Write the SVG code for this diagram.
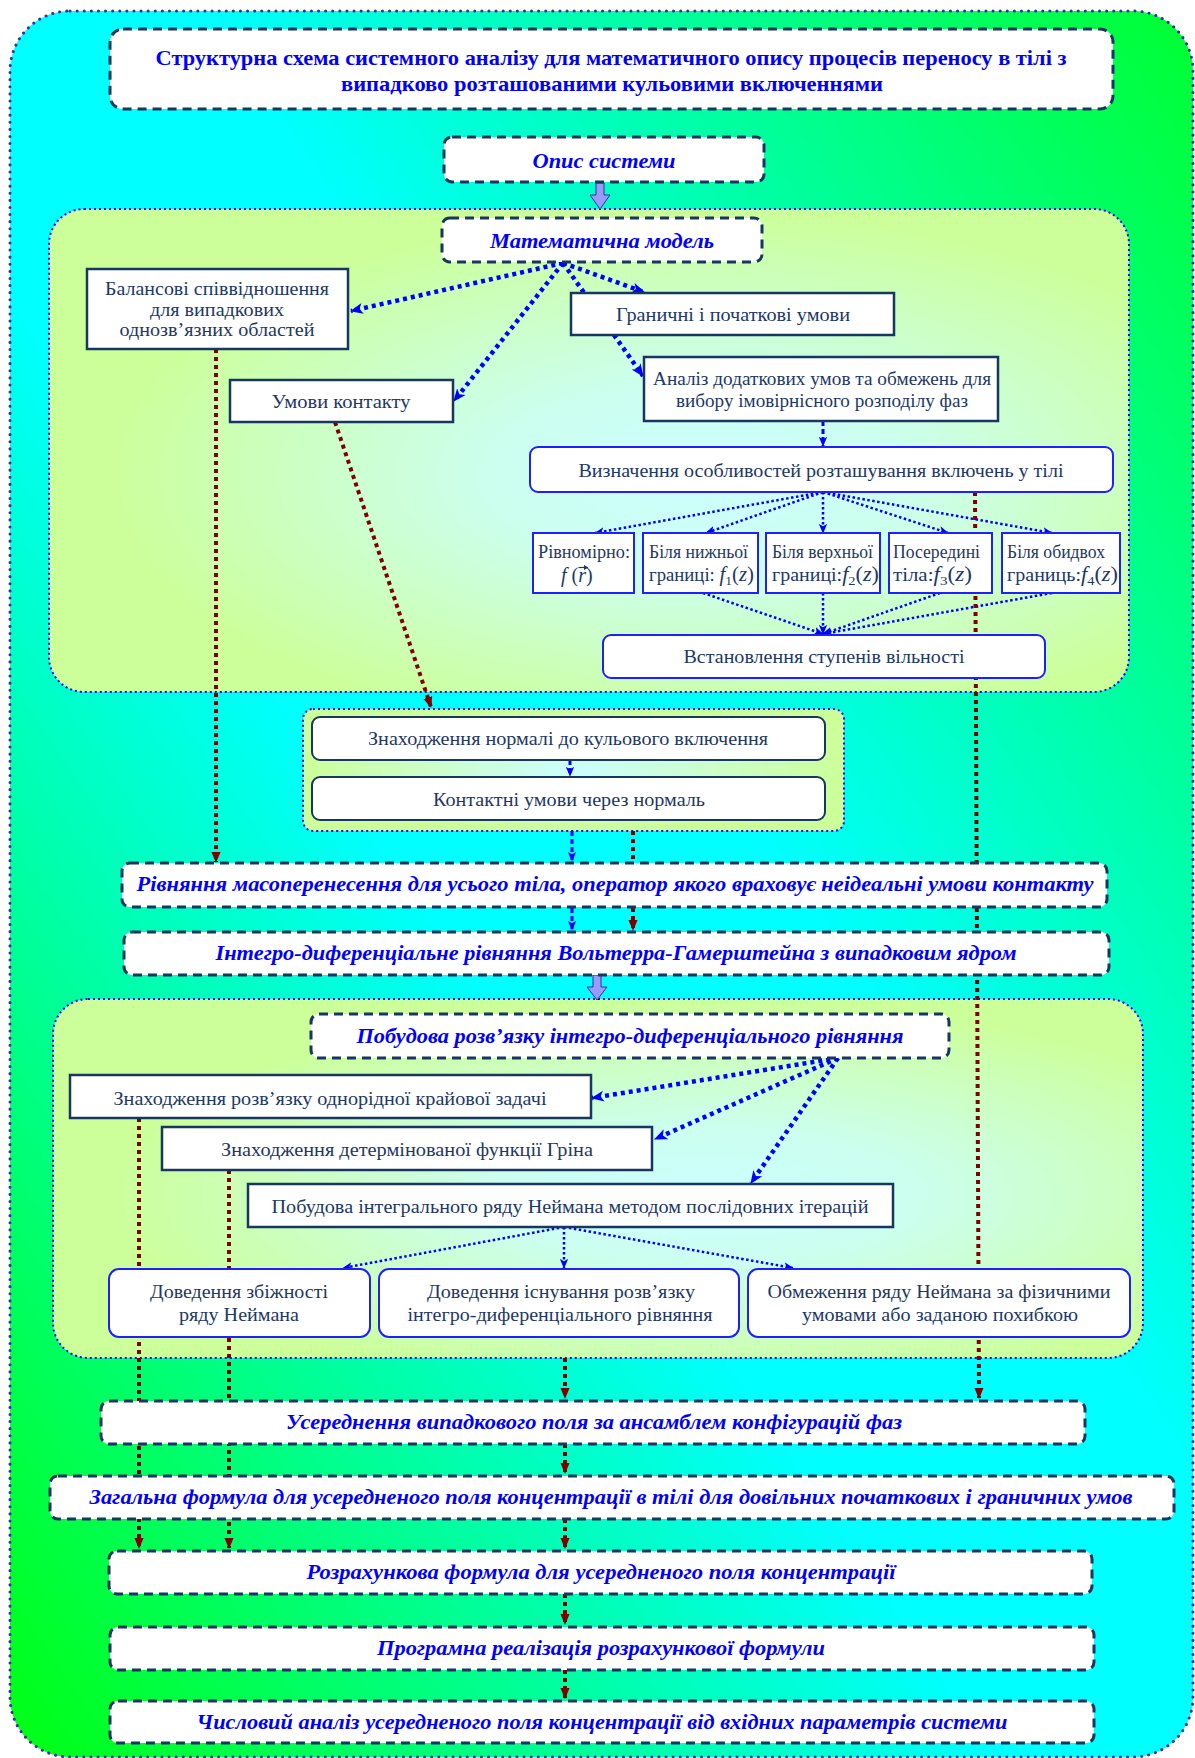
<svg xmlns="http://www.w3.org/2000/svg" width="1195" height="1758" viewBox="0 0 1195 1758">
<defs>
<linearGradient id="bg" x1="1" y1="0" x2="0" y2="1">
<stop offset="0" stop-color="#00ff30"/><stop offset="0.42" stop-color="#00ffff"/><stop offset="0.58" stop-color="#00ffff"/><stop offset="1" stop-color="#00ff10"/>
</linearGradient>
<radialGradient id="pg" cx="0.6" cy="0.55" r="0.55">
<stop offset="0" stop-color="#ccffff"/><stop offset="0.35" stop-color="#ccffee"/><stop offset="1" stop-color="#ccff99"/>
</radialGradient>
<radialGradient id="pg2" cx="0.5" cy="0.5" r="0.5">
<stop offset="0" stop-color="#ccffff"/><stop offset="1" stop-color="#ccff99"/>
</radialGradient>
<marker id="mb" markerUnits="userSpaceOnUse" markerWidth="13" markerHeight="13" viewBox="0 0 12 12" refX="11" refY="6" orient="auto"><path d="M0,1 L12,6 L0,11 L3,6 z" fill="#0000ff"/></marker>
<marker id="mbs" markerUnits="userSpaceOnUse" markerWidth="10" markerHeight="10" viewBox="0 0 12 12" refX="11" refY="6" orient="auto"><path d="M0,1 L12,6 L0,11 L3,6 z" fill="#0000ff"/></marker>
<marker id="mr" markerUnits="userSpaceOnUse" markerWidth="11" markerHeight="11" viewBox="0 0 12 12" refX="11" refY="6" orient="auto"><path d="M0,1 L12,6 L0,11 z" fill="#800000"/></marker>
</defs>
<style>
.frame{fill:url(#bg);stroke:#333399;stroke-width:3;stroke-dasharray:0.1 7;stroke-linecap:round}
.panel{fill:url(#pg);stroke:#0000ff;stroke-width:2;stroke-dasharray:2 3}
.panel2{fill:url(#pg2);stroke:#0000ff;stroke-width:2;stroke-dasharray:2 3}
.dbox{fill:#ffffff;stroke:#17375e;stroke-width:3;stroke-dasharray:9 6}
.sbox{fill:#ffffff;stroke:#17375e;stroke-width:2.5}
.bbox{fill:#ffffff;stroke:#1f1fff;stroke-width:2}
.nbox{fill:#ffffff;stroke:#17375e;stroke-width:2}
.bi{font-family:"Liberation Serif","Times New Roman",serif;font-weight:bold;font-style:italic;font-size:22px;fill:#0000ff;text-anchor:middle}
.tt{font-family:"Liberation Serif","Times New Roman",serif;font-weight:bold;font-size:21px;fill:#0000ff;text-anchor:middle}
.rt{font-family:"Liberation Serif","Times New Roman",serif;font-size:19px;fill:#1f3864;text-anchor:middle}
.st{font-family:"Liberation Serif","Times New Roman",serif;font-size:18px;fill:#1f3864}
.mi{font-style:italic;font-size:20px}
.mn{font-size:20px}
.rd{fill:none;stroke:#800000;stroke-width:4;stroke-dasharray:4 4}
.bt{fill:none;stroke:#0000ff;stroke-width:4.5;stroke-dasharray:4 4}
.bn{fill:none;stroke:#0000ff;stroke-width:2.5;stroke-dasharray:2.5 2.5}
.bd{fill:none;stroke:#0000ff;stroke-width:3;stroke-dasharray:5 3}
.blk{fill:#9999ff;stroke:#333399;stroke-width:1}
</style>

<rect class="frame" x="10" y="11" width="1183" height="1746" rx="60"/>

<g id="panel-model"><rect class="panel" x="49" y="209" width="1080" height="483" rx="35"/></g>
<g id="panel-contact"><rect class="panel2" x="303" y="709" width="541" height="122" rx="10"/></g>
<g id="panel-solution"><rect class="panel" x="53" y="999" width="1090" height="359" rx="35"/></g>

<g id="connectors">
<polygon class="blk" points="596,183 604,183 604,195 610,195 600,209 590,195 596,195"/>
<polygon class="blk" points="593,975 601,975 601,987 607,987 597,1000 587,987 593,987"/>
<line class="bt" x1="563" y1="263" x2="351" y2="311" marker-end="url(#mb)"/>
<line class="bt" x1="563" y1="263" x2="454" y2="401" marker-end="url(#mb)"/>
<line class="bt" x1="563" y1="263" x2="644" y2="292" marker-end="url(#mb)"/>
<line class="bt" x1="563" y1="263" x2="643" y2="376" marker-end="url(#mb)"/>
<line class="bd" x1="823" y1="421" x2="823" y2="446" marker-end="url(#mbs)"/>
<line class="bn" x1="823" y1="492" x2="595" y2="533" marker-end="url(#mbs)"/>
<line class="bn" x1="823" y1="492" x2="706" y2="533" marker-end="url(#mbs)"/>
<line class="bn" x1="823" y1="492" x2="823" y2="533" marker-end="url(#mbs)"/>
<line class="bn" x1="823" y1="492" x2="948" y2="533" marker-end="url(#mbs)"/>
<line class="bn" x1="823" y1="492" x2="1052" y2="533" marker-end="url(#mbs)"/>
<line class="bn" x1="703" y1="593" x2="823" y2="634" marker-end="url(#mbs)"/>
<line class="bn" x1="823" y1="593" x2="823" y2="634" marker-end="url(#mbs)"/>
<line class="bn" x1="940" y1="593" x2="823" y2="634" marker-end="url(#mbs)"/>
<line class="bn" x1="1052" y1="593" x2="823" y2="634" marker-end="url(#mbs)"/>
<line class="rd" x1="216" y1="349" x2="216" y2="862" marker-end="url(#mr)"/>
<line class="rd" x1="335" y1="422" x2="431" y2="707" marker-end="url(#mr)"/>
<line class="rd" x1="975" y1="492" x2="979" y2="1398" marker-end="url(#mr)"/>
<line class="bd" x1="570" y1="760" x2="570" y2="776" marker-end="url(#mbs)"/>
<line class="bd" x1="572" y1="831" x2="572" y2="861" marker-end="url(#mbs)"/>
<line class="bd" x1="572" y1="908" x2="572" y2="930" marker-end="url(#mbs)"/>
<line class="rd" x1="633" y1="831" x2="633" y2="862"/>
<line class="rd" x1="633" y1="908" x2="633" y2="930" marker-end="url(#mr)"/>
<line class="bt" x1="838" y1="1058" x2="592" y2="1098" marker-end="url(#mb)"/>
<line class="bt" x1="838" y1="1058" x2="655" y2="1139" marker-end="url(#mb)"/>
<line class="bt" x1="838" y1="1058" x2="751" y2="1183" marker-end="url(#mb)"/>
<line class="bn" x1="564" y1="1227" x2="343" y2="1268" marker-end="url(#mbs)"/>
<line class="bn" x1="564" y1="1227" x2="564" y2="1268" marker-end="url(#mbs)"/>
<line class="bn" x1="564" y1="1227" x2="793" y2="1268" marker-end="url(#mbs)"/>
<line class="rd" x1="139" y1="1118" x2="139" y2="1548" marker-end="url(#mr)"/>
<line class="rd" x1="229" y1="1170" x2="229" y2="1548" marker-end="url(#mr)"/>
<line class="rd" x1="565" y1="1358" x2="565" y2="1398" marker-end="url(#mr)"/>
<line class="rd" x1="565" y1="1444" x2="565" y2="1473" marker-end="url(#mr)"/>
<line class="rd" x1="565" y1="1519" x2="565" y2="1548" marker-end="url(#mr)"/>
<line class="rd" x1="565" y1="1594" x2="565" y2="1624" marker-end="url(#mr)"/>
<line class="rd" x1="565" y1="1670" x2="565" y2="1698" marker-end="url(#mr)"/>
</g>

<g id="title"><rect class="dbox" x="110" y="29" width="1003" height="80" rx="13"/>
<text class="tt" x="611" y="65" textLength="911" lengthAdjust="spacingAndGlyphs">Структурна схема системного аналізу для математичного опису процесів переносу в тілі з</text>
<text class="tt" x="612" y="91" textLength="542" lengthAdjust="spacingAndGlyphs">випадково розташованими кульовими включеннями</text></g>

<g id="n-opys"><rect class="dbox" x="444" y="137" width="320" height="45" rx="8"/>
<text class="bi" x="604" y="168" textLength="143" lengthAdjust="spacingAndGlyphs">Опис системи</text></g>

<g id="n-model"><rect class="dbox" x="442" y="218" width="320" height="44" rx="8"/>
<text class="bi" x="602" y="248" textLength="224" lengthAdjust="spacingAndGlyphs">Математична модель</text></g>

<g id="n-balance"><rect class="sbox" x="87" y="269" width="261" height="80"/>
<text class="rt" x="217" y="295" textLength="224" lengthAdjust="spacingAndGlyphs">Балансові співвідношення</text>
<text class="rt" x="217" y="316" textLength="134" lengthAdjust="spacingAndGlyphs">для випадкових</text>
<text class="rt" x="217" y="336" textLength="195" lengthAdjust="spacingAndGlyphs">однозв’язних областей</text></g>

<g id="n-contact"><rect class="sbox" x="230" y="380" width="223" height="42"/>
<text class="rt" x="341" y="408" textLength="139" lengthAdjust="spacingAndGlyphs">Умови контакту</text></g>

<g id="n-boundary"><rect class="sbox" x="571" y="293" width="323" height="42"/>
<text class="rt" x="733" y="321" textLength="234" lengthAdjust="spacingAndGlyphs">Граничні і початкові умови</text></g>

<g id="n-analysis"><rect class="sbox" x="644" y="357" width="354" height="64"/>
<text class="rt" x="822" y="385" textLength="338" lengthAdjust="spacingAndGlyphs">Аналіз додаткових умов та обмежень для</text>
<text class="rt" x="822" y="407" textLength="292" lengthAdjust="spacingAndGlyphs">вибору імовірнісного розподілу фаз</text></g>

<g id="n-define"><rect class="bbox" x="530" y="447" width="583" height="45" rx="8"/>
<text class="rt" x="821" y="477" textLength="485" lengthAdjust="spacingAndGlyphs">Визначення особливостей розташування включень у тілі</text></g>

<g id="n-uniform"><rect class="bbox" x="533" y="533" width="101" height="60"/>
<text class="st" x="538" y="558" textLength="92" lengthAdjust="spacingAndGlyphs">Рівномірно:</text>
<text class="st" x="561" y="582"><tspan class="mi">f</tspan><tspan class="mn"> (</tspan><tspan class="mi">r</tspan><tspan class="mn">)</tspan></text>
<line x1="578.5" y1="567.5" x2="585" y2="567.5" stroke="#1f3864" stroke-width="1.2"/>
<polygon points="588.5,567.5 584,565 584,570" fill="#1f3864"/></g>

<g id="n-lower"><rect class="bbox" x="643" y="533" width="115" height="60"/>
<text class="st" x="649" y="558" textLength="99" lengthAdjust="spacingAndGlyphs">Біля нижньої</text>
<text class="st" x="649" y="581" textLength="105" lengthAdjust="spacingAndGlyphs">границі: <tspan class="mi">f</tspan><tspan font-size="13" dy="4">1</tspan><tspan class="mn" dy="-4">(</tspan><tspan class="mi">z</tspan><tspan class="mn">)</tspan></text></g>

<g id="n-upper"><rect class="bbox" x="766" y="533" width="114" height="60"/>
<text class="st" x="772" y="558" textLength="101" lengthAdjust="spacingAndGlyphs">Біля верхньої</text>
<text class="st" x="772" y="581" textLength="107" lengthAdjust="spacingAndGlyphs">границі:<tspan class="mi">f</tspan><tspan font-size="13" dy="4">2</tspan><tspan class="mn" dy="-4">(</tspan><tspan class="mi">z</tspan><tspan class="mn">)</tspan></text></g>

<g id="n-middle"><rect class="bbox" x="889" y="533" width="103" height="60"/>
<text class="st" x="893" y="558" textLength="87" lengthAdjust="spacingAndGlyphs">Посередині</text>
<text class="st" x="893" y="581" textLength="79" lengthAdjust="spacingAndGlyphs">тіла:<tspan class="mi">f</tspan><tspan font-size="13" dy="4">3</tspan><tspan class="mn" dy="-4">(</tspan><tspan class="mi">z</tspan><tspan class="mn">)</tspan></text></g>

<g id="n-both"><rect class="bbox" x="1002" y="533" width="118" height="60"/>
<text class="st" x="1007" y="558" textLength="98" lengthAdjust="spacingAndGlyphs">Біля обидвох</text>
<text class="st" x="1007" y="581" textLength="111" lengthAdjust="spacingAndGlyphs">границь:<tspan class="mi">f</tspan><tspan font-size="13" dy="4">4</tspan><tspan class="mn" dy="-4">(</tspan><tspan class="mi">z</tspan><tspan class="mn">)</tspan></text></g>

<g id="n-dof"><rect class="bbox" x="603" y="635" width="442" height="43" rx="8"/>
<text class="rt" x="824" y="663" textLength="281" lengthAdjust="spacingAndGlyphs">Встановлення ступенів вільності</text></g>

<g id="n-normal"><rect class="nbox" x="312" y="717" width="513" height="43" rx="8"/>
<text class="rt" x="568" y="745" textLength="400" lengthAdjust="spacingAndGlyphs">Знаходження нормалі до кульового включення</text></g>

<g id="n-contactnormal"><rect class="nbox" x="312" y="777" width="513" height="43" rx="8"/>
<text class="rt" x="569" y="806" textLength="272" lengthAdjust="spacingAndGlyphs">Контактні умови через нормаль</text></g>

<g id="n-masstransfer"><rect class="dbox" x="122" y="863" width="985" height="44" rx="8"/>
<text class="bi" x="615" y="891" textLength="957" lengthAdjust="spacingAndGlyphs">Рівняння масоперенесення для усього тіла, оператор якого враховує неідеальні умови контакту</text></g>

<g id="n-integro"><rect class="dbox" x="124" y="932" width="985" height="43" rx="8"/>
<text class="bi" x="616" y="960" textLength="801" lengthAdjust="spacingAndGlyphs">Інтегро-диференціальне рівняння Вольтерра-Гамерштейна з випадковим ядром</text></g>

<g id="n-solution"><rect class="dbox" x="311" y="1014" width="638" height="44" rx="8"/>
<text class="bi" x="630" y="1043" textLength="547" lengthAdjust="spacingAndGlyphs">Побудова розв’язку інтегро-диференціального рівняння</text></g>

<g id="n-homog"><rect class="sbox" x="70" y="1075" width="521" height="43"/>
<text class="rt" x="330" y="1105" textLength="433" lengthAdjust="spacingAndGlyphs">Знаходження розв’язку однорідної крайової задачі</text></g>

<g id="n-green"><rect class="sbox" x="162" y="1127" width="490" height="43"/>
<text class="rt" x="407" y="1156" textLength="372" lengthAdjust="spacingAndGlyphs">Знаходження детермінованої функції Гріна</text></g>

<g id="n-neumann"><rect class="sbox" x="248" y="1184" width="645" height="43"/>
<text class="rt" x="570" y="1213" textLength="597" lengthAdjust="spacingAndGlyphs">Побудова інтегрального ряду Неймана методом послідовних ітерацій</text></g>

<g id="n-converge"><rect class="bbox" x="109" y="1269" width="261" height="68" rx="10"/>
<text class="rt" x="239" y="1298" textLength="178" lengthAdjust="spacingAndGlyphs">Доведення збіжності</text>
<text class="rt" x="239" y="1321" textLength="120" lengthAdjust="spacingAndGlyphs">ряду Неймана</text></g>

<g id="n-exist"><rect class="bbox" x="379" y="1269" width="360" height="68" rx="10"/>
<text class="rt" x="561" y="1298" textLength="268" lengthAdjust="spacingAndGlyphs">Доведення існування розв’язку</text>
<text class="rt" x="560" y="1321" textLength="305" lengthAdjust="spacingAndGlyphs">інтегро-диференціального рівняння</text></g>

<g id="n-limit"><rect class="bbox" x="748" y="1269" width="382" height="68" rx="10"/>
<text class="rt" x="939" y="1298" textLength="343" lengthAdjust="spacingAndGlyphs">Обмеження ряду Неймана за фізичними</text>
<text class="rt" x="940" y="1321" textLength="276" lengthAdjust="spacingAndGlyphs">умовами або заданою похибкою</text></g>

<g id="n-average"><rect class="dbox" x="101" y="1401" width="984" height="43" rx="8"/>
<text class="bi" x="594" y="1429" textLength="616" lengthAdjust="spacingAndGlyphs">Усереднення випадкового поля за ансамблем конфігурацій фаз</text></g>

<g id="n-general"><rect class="dbox" x="50" y="1476" width="1124" height="43" rx="8"/>
<text class="bi" x="611" y="1504" textLength="1043" lengthAdjust="spacingAndGlyphs">Загальна формула для усередненого поля концентрації в тілі для довільних початкових і граничних умов</text></g>

<g id="n-calc"><rect class="dbox" x="109" y="1551" width="983" height="43" rx="8"/>
<text class="bi" x="601" y="1579" textLength="589" lengthAdjust="spacingAndGlyphs">Розрахункова формула для усередненого поля концентрації</text></g>

<g id="n-program"><rect class="dbox" x="110" y="1627" width="984" height="43" rx="8"/>
<text class="bi" x="601" y="1655" textLength="448" lengthAdjust="spacingAndGlyphs">Програмна реалізація розрахункової формули</text></g>

<g id="n-numeric"><rect class="dbox" x="110" y="1701" width="984" height="42" rx="8"/>
<text class="bi" x="602" y="1729" textLength="811" lengthAdjust="spacingAndGlyphs">Числовий аналіз усередненого поля концентрації від вхідних параметрів системи</text></g>
</svg>
